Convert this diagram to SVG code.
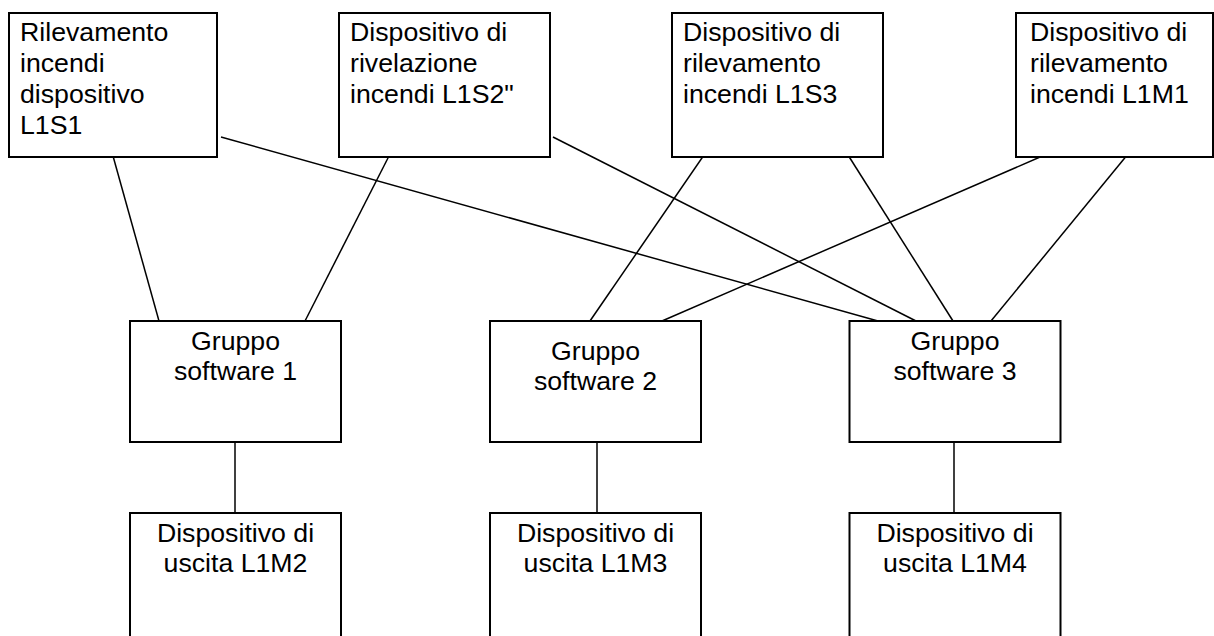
<svg xmlns="http://www.w3.org/2000/svg" width="1214" height="636" viewBox="0 0 1214 636">
<style>
.box{fill:#fff;stroke:#000;stroke-width:2}
.t{font-family:"Liberation Sans",Arial,sans-serif;font-size:26.7px;fill:#000}
.c{text-anchor:middle}
.ln{stroke:#000;stroke-width:1.5;fill:none}
</style>
<rect width="1214" height="636" fill="#fff"/>
<g id="connectors">
<line class="ln" x1="113" y1="156" x2="159" y2="321"/>
<line class="ln" x1="389" y1="156" x2="305" y2="321"/>
<line class="ln" x1="221" y1="137" x2="878" y2="321"/>
<line class="ln" x1="553" y1="137" x2="916" y2="321"/>
<line class="ln" x1="704" y1="155" x2="590" y2="321"/>
<line class="ln" x1="848" y1="155" x2="953" y2="321"/>
<line class="ln" x1="1047" y1="154" x2="662" y2="321"/>
<line class="ln" x1="1128" y1="154" x2="991" y2="321"/>
<line class="ln" x1="235" y1="442" x2="235" y2="513"/>
<line class="ln" x1="597" y1="442" x2="597" y2="513"/>
<line class="ln" x1="954" y1="442" x2="954" y2="513"/>
</g>
<g id="n_l1s1">
<rect class="box" x="9" y="13" width="208" height="144"/>
<text class="t" x="20" y="41">Rilevamento</text>
<text class="t" x="20" y="72">incendi</text>
<text class="t" x="20" y="103">dispositivo</text>
<text class="t" x="20" y="134">L1S1</text>
</g>
<g id="n_l1s2">
<rect class="box" x="339" y="13" width="211" height="144"/>
<text class="t" x="350" y="41">Dispositivo di</text>
<text class="t" x="350" y="72">rivelazione</text>
<text class="t" x="350" y="103">incendi L1S2"</text>
</g>
<g id="n_l1s3">
<rect class="box" x="672" y="13" width="211" height="144"/>
<text class="t" x="683" y="41">Dispositivo di</text>
<text class="t" x="683" y="72">rilevamento</text>
<text class="t" x="683" y="103">incendi L1S3</text>
</g>
<g id="n_l1m1">
<rect class="box" x="1016" y="13" width="197" height="144"/>
<text class="t" x="1030" y="41">Dispositivo di</text>
<text class="t" x="1030" y="72">rilevamento</text>
<text class="t" x="1030" y="103">incendi L1M1</text>
</g>
<g id="n_g1">
<rect class="box" x="130" y="321" width="211" height="121"/>
<text class="t c" x="235.5" y="350">Gruppo</text>
<text class="t c" x="235.5" y="380">software 1</text>
</g>
<g id="n_g2">
<rect class="box" x="490" y="321" width="211" height="121"/>
<text class="t c" x="595.5" y="360">Gruppo</text>
<text class="t c" x="595.5" y="390">software 2</text>
</g>
<g id="n_g3">
<rect class="box" x="849.5" y="321" width="211" height="121"/>
<text class="t c" x="955" y="350">Gruppo</text>
<text class="t c" x="955" y="380">software 3</text>
</g>
<g id="n_l1m2">
<rect class="box" x="130" y="513" width="211" height="130"/>
<text class="t c" x="235.5" y="542">Dispositivo di</text>
<text class="t c" x="235.5" y="572">uscita L1M2</text>
</g>
<g id="n_l1m3">
<rect class="box" x="490" y="513" width="211" height="130"/>
<text class="t c" x="595.5" y="542">Dispositivo di</text>
<text class="t c" x="595.5" y="572">uscita L1M3</text>
</g>
<g id="n_l1m4">
<rect class="box" x="849.5" y="513" width="211" height="130"/>
<text class="t c" x="955" y="542">Dispositivo di</text>
<text class="t c" x="955" y="572">uscita L1M4</text>
</g>
</svg>
